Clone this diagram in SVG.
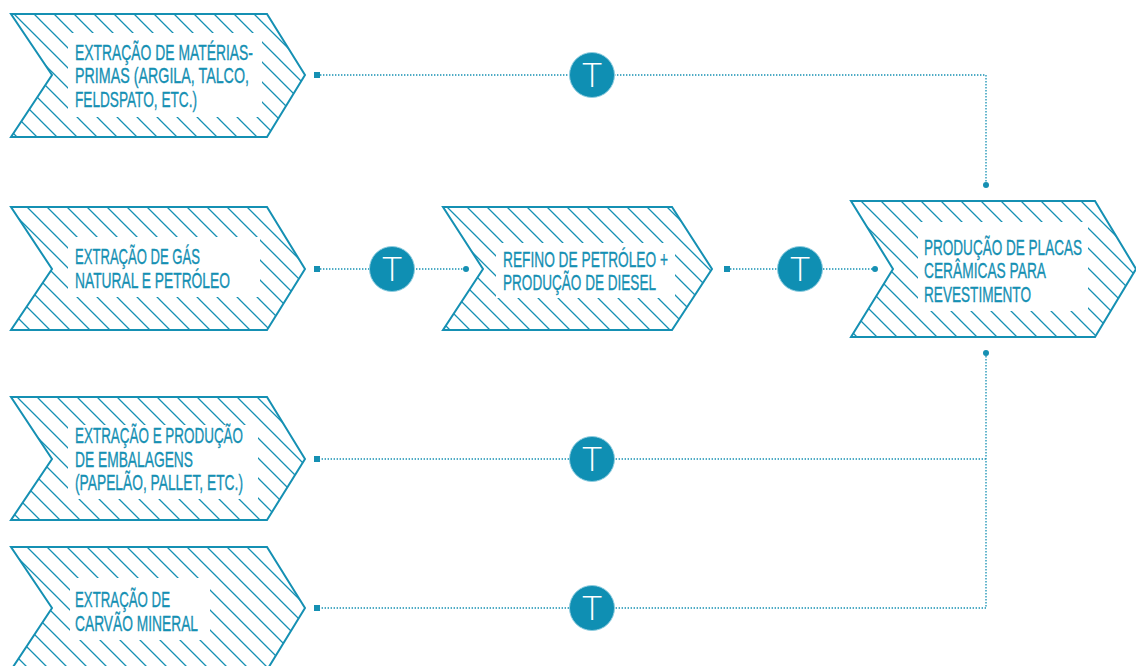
<svg xmlns="http://www.w3.org/2000/svg" width="1136" height="666" viewBox="0 0 1136 666">
<style>
.bg{fill:#ffffff}
.hatch{fill:url(#h);stroke:none}
.out{fill:none;stroke:#1590b3;stroke-width:2;stroke-linejoin:miter}
.clear{fill:#ffffff}
.lbl{font-family:"Liberation Sans",Arial,sans-serif;font-size:22px;fill:#1590b3;stroke:#1590b3;stroke-width:0.35}
.con{fill:none;stroke:#1590b3;stroke-width:1.3;stroke-dasharray:1.4 1.6}
.sq{fill:#1590b3}
.dot{fill:#1590b3}
.tc{fill:#0f8fb3;stroke:#8fcde0;stroke-width:1}
.tt{font-family:Lato,"Open Sans",sans-serif;font-weight:300;font-size:34px;fill:#ffffff;text-anchor:middle}
</style>
<defs>
<pattern id="h" patternUnits="userSpaceOnUse" width="20" height="20">
<path d="M-5,-5 L25,25 M-5,15 L5,25 M15,-5 L25,5" stroke="#1590b3" stroke-width="1.3" fill="none"/>
</pattern>
</defs>
<rect class="bg" x="0" y="0" width="1136" height="666"/>
<g id="connectors">
<path class="con" d="M317,75 H986 V185"/>
<rect class="sq" x="314" y="72" width="6" height="6"/>
<circle class="dot" cx="986" cy="185" r="3"/>
<path class="con" d="M317,269 H466"/>
<rect class="sq" x="314" y="266" width="6" height="6"/>
<circle class="dot" cx="466" cy="269" r="3"/>
<path class="con" d="M727,269 H875"/>
<rect class="sq" x="724" y="266" width="6" height="6"/>
<circle class="dot" cx="875" cy="269" r="3"/>
<path class="con" d="M986,353 V608 H317 M986,459 H317"/>
<circle class="dot" cx="986" cy="353" r="3"/>
<rect class="sq" x="314" y="456" width="6" height="6"/>
<rect class="sq" x="314" y="605" width="6" height="6"/>
</g>
<g id="transports">
<g id="t1"><circle class="tc" cx="592" cy="75" r="22.5"/><text class="tt" x="592" y="87">T</text></g>
<g id="t2"><circle class="tc" cx="392" cy="269" r="22.5"/><text class="tt" x="392" y="281">T</text></g>
<g id="t3"><circle class="tc" cx="800" cy="269" r="22.5"/><text class="tt" x="800" y="281">T</text></g>
<g id="t4"><circle class="tc" cx="592" cy="459" r="22.5"/><text class="tt" x="592" y="471">T</text></g>
<g id="t5"><circle class="tc" cx="592" cy="608" r="22.5"/><text class="tt" x="592" y="620">T</text></g>
</g>
<g id="n1">
<path class="hatch" d="M11,14 H267 L305,75 L267,137 H11 L52,75 Z"/>
<rect class="clear" x="68" y="33" width="194" height="84"/>
<path class="out" d="M11,14 H267 L305,75 L267,137 H11 L52,75 Z"/>
<text class="lbl" x="75" y="60" textLength="178" lengthAdjust="spacingAndGlyphs">EXTRAÇÃO DE MATÉRIAS-</text>
<text class="lbl" x="75" y="83" textLength="174" lengthAdjust="spacingAndGlyphs">PRIMAS (ARGILA, TALCO,</text>
<text class="lbl" x="75" y="107" textLength="122" lengthAdjust="spacingAndGlyphs">FELDSPATO, ETC.)</text>
</g>
<g id="n2">
<path class="hatch" d="M11,207 H267 L305,269 L267,330 H11 L52,269 Z"/>
<rect class="clear" x="68" y="237" width="192" height="60"/>
<path class="out" d="M11,207 H267 L305,269 L267,330 H11 L52,269 Z"/>
<text class="lbl" x="75" y="264" textLength="125" lengthAdjust="spacingAndGlyphs">EXTRAÇÃO DE GÁS</text>
<text class="lbl" x="75" y="288" textLength="155" lengthAdjust="spacingAndGlyphs">NATURAL E PETRÓLEO</text>
</g>
<g id="n3">
<path class="hatch" d="M443,207 H672 L712,269 L672,330 H443 L483,269 Z"/>
<rect class="clear" x="496" y="243" width="179" height="55"/>
<path class="out" d="M443,207 H672 L712,269 L672,330 H443 L483,269 Z"/>
<text class="lbl" x="503" y="267" textLength="165" lengthAdjust="spacingAndGlyphs">REFINO DE PETRÓLEO +</text>
<text class="lbl" x="503" y="290" textLength="153" lengthAdjust="spacingAndGlyphs">PRODUÇÃO DE DIESEL</text>
</g>
<g id="n4">
<path class="hatch" d="M851,201 H1095 L1136,269 L1095,337 H851 L893,269 Z"/>
<rect class="clear" x="918" y="222" width="170" height="89"/>
<path class="out" d="M851,201 H1095 L1136,269 L1095,337 H851 L893,269 Z"/>
<text class="lbl" x="924" y="255" textLength="158" lengthAdjust="spacingAndGlyphs">PRODUÇÃO DE PLACAS</text>
<text class="lbl" x="924" y="278" textLength="122" lengthAdjust="spacingAndGlyphs">CERÂMICAS PARA</text>
<text class="lbl" x="924" y="302" textLength="107" lengthAdjust="spacingAndGlyphs">REVESTIMENTO</text>
</g>
<g id="n5">
<path class="hatch" d="M11,397 H267 L305,459 L267,520 H11 L52,459 Z"/>
<rect class="clear" x="68" y="425" width="190" height="74"/>
<path class="out" d="M11,397 H267 L305,459 L267,520 H11 L52,459 Z"/>
<text class="lbl" x="75" y="443" textLength="168" lengthAdjust="spacingAndGlyphs">EXTRAÇÃO E PRODUÇÃO</text>
<text class="lbl" x="75" y="467" textLength="118" lengthAdjust="spacingAndGlyphs">DE EMBALAGENS</text>
<text class="lbl" x="75" y="490" textLength="168" lengthAdjust="spacingAndGlyphs">(PAPELÃO, PALLET, ETC.)</text>
</g>
<g id="n6">
<path class="hatch" d="M11,547 H267 L305,608 L267,670 H11 L52,608 Z"/>
<rect class="clear" x="70" y="578" width="140" height="62"/>
<path class="out" d="M11,547 H267 L305,608 L267,670 H11 L52,608 Z"/>
<text class="lbl" x="75" y="607" textLength="95" lengthAdjust="spacingAndGlyphs">EXTRAÇÃO DE</text>
<text class="lbl" x="75" y="631" textLength="123" lengthAdjust="spacingAndGlyphs">CARVÃO MINERAL</text>
</g>
</svg>
